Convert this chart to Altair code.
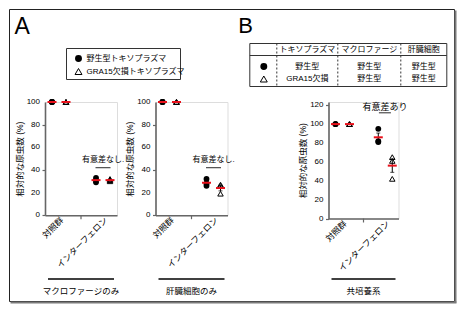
import altair as alt
import pandas as pd

FONT = "Liberation Sans, Noto Sans CJK JP"

groups = ["対照群", "インターフェロン"]
strains = ["野生型", "GRA15欠損"]

# Relative parasite numbers (%), three replicates each
mac_ctrl_wt = [100, 100, 100]
mac_ctrl_gra = [100, 100, 100]
mac_ifn_wt = [33, 31, 29]
mac_ifn_gra = [32, 30, 31]

hep_ctrl_wt = [100, 100, 100]
hep_ctrl_gra = [100, 100, 100]
hep_ifn_wt = [32, 28, 26]
hep_ifn_gra = [27, 26, 19]

co_ctrl_wt = [100, 100, 100]
co_ctrl_gra = [100, 100, 100]
co_ifn_wt = [95, 81, 82]
co_ifn_gra = [65, 61, 42]

ticks_a = [0, 20, 40, 60, 80, 100]
ticks_b = [0, 20, 40, 60, 80, 100, 120]

legend_labels = ["野生型トキソプラズマ", "GRA15欠損トキソプラズマ"]
table_header = ["トキソプラズマ", "マクロファージ", "肝臓細胞"]
table_rows = [["野生型", "野生型", "野生型"], ["GRA15欠損", "野生型", "野生型"]]


def make_df(cw, cg, iw, ig):
    rows = []
    for g, s, vals in [(groups[0], strains[0], cw), (groups[0], strains[1], cg),
                       (groups[1], strains[0], iw), (groups[1], strains[1], ig)]:
        for v in vals:
            rows.append({"group": g, "strain": s, "value": v})
    return pd.DataFrame(rows)


one = pd.DataFrame({"k": [0]})
AX = "#666666"


def panel(df, w, h, ymax, yticks, sig_text, sig_y, line_y, line_len, sig_size,
          group_label, extra):
    yaxis = alt.Axis(values=yticks, title="相対的な原虫数 (%)", grid=False,
                     titleFont=FONT, titleFontSize=8.5, titleFontWeight="normal",
                     titleColor="black", labels=False, domainColor=AX,
                     domainWidth=1.6, tickColor=AX, tickWidth=1.2, tickSize=3,
                     titlePadding=17)
    ysc = alt.Scale(domain=[0, ymax], nice=False, zero=True)
    x = alt.X("group:N", sort=groups,
              scale=alt.Scale(domain=groups, paddingInner=0.364, paddingOuter=0),
              axis=alt.Axis(title=None, labelAngle=-45, ticks=False,
                            labelFont=FONT, labelFontSize=8.5, labelColor="black",
                            labelAlign="right", labelBaseline="middle",
                            labelPadding=3, labelOffset=3, domainColor=AX,
                            domainWidth=1.6, labelOverlap=False))
    xo = alt.XOffset("strain:N", sort=strains, scale=alt.Scale(domain=strains))
    base = alt.Chart(df)

    stats = base.transform_aggregate(
        m="mean(value)", se="stderr(value)", groupby=["group", "strain"]
    ).transform_filter("datum.se > 0").transform_calculate(
        lo="datum.m - datum.se", hi="datum.m + datum.se")
    err = stats.mark_rule(color="black", strokeWidth=1).encode(
        x=x, xOffset=xo, y=alt.Y("lo:Q", scale=ysc, axis=yaxis), y2="hi:Q")
    cap_lo = stats.mark_tick(color="black", size=4, thickness=1).encode(
        x=x, xOffset=xo, y=alt.Y("lo:Q", scale=ysc, axis=yaxis))
    cap_hi = stats.mark_tick(color="black", size=4, thickness=1).encode(
        x=x, xOffset=xo, y=alt.Y("hi:Q", scale=ysc, axis=yaxis))

    dots = base.transform_filter(alt.datum.strain == strains[0]).mark_circle(
        color="black", opacity=1, size=34).encode(
        x=x, xOffset=xo, y=alt.Y("value:Q", scale=ysc, axis=yaxis))
    tris = base.transform_filter(alt.datum.strain == strains[1]).mark_point(
        shape="triangle-up", filled=False, color="black", strokeWidth=1,
        opacity=1, size=30).encode(
        x=x, xOffset=xo, y=alt.Y("value:Q", scale=ysc, axis=yaxis))
    mean = base.mark_tick(color="#e8101a", size=9, thickness=2).encode(
        x=x, xOffset=xo, y=alt.Y("mean(value):Q", scale=ysc, axis=yaxis))

    # y tick labels, placed through the y scale
    ylabels = alt.Chart(pd.DataFrame({"t": yticks})).mark_text(
        font="Liberation Sans", fontSize=8, align="right", baseline="middle",
        color="black").encode(
        x=alt.value(-5), y=alt.Y("t:Q", scale=ysc, axis=yaxis),
        text=alt.Text("t:Q"))

    sig = alt.Chart(one).mark_text(text=sig_text, font=FONT, fontSize=sig_size,
                                   color="black").encode(
        x=alt.XDatum(groups[1], type="nominal"),
        y=alt.YDatum(sig_y, type="quantitative"))
    sig_line = alt.Chart(one).mark_tick(color="black", size=line_len,
                                        thickness=1.2).encode(
        x=alt.XDatum(groups[1], type="nominal"),
        y=alt.YDatum(line_y, type="quantitative"))
    mid_tick = alt.Chart(one).mark_rule(color=AX, strokeWidth=1.2).encode(
        x=alt.value(w / 2), y=alt.value(h), y2=alt.value(h + 4))
    bracket = alt.Chart(one).mark_rule(color="black", strokeWidth=1.3).encode(
        x=alt.value(3), x2=alt.value(w - 3), y=alt.value(177))
    glabel = alt.Chart(one).mark_text(text=group_label, font=FONT, fontSize=8.5,
                                      color="black").encode(
        x=alt.value(w / 2), y=alt.value(188.5))

    layers = [err, cap_lo, cap_hi, dots, tris, mean, ylabels, sig, sig_line,
              mid_tick, bracket, glabel] + extra
    return alt.layer(*layers).properties(width=w, height=h)


def txt(s, x, y, size=8, align="center", baseline="middle", font=FONT):
    return alt.Chart(one).mark_text(text=s, font=font, fontSize=size,
                                    align=align, baseline=baseline,
                                    color="black").encode(
        x=alt.value(x), y=alt.value(y))


def hrule(x1, x2, y, color="#222", width=1, dash=None):
    kw = dict(color=color, strokeWidth=width)
    if dash:
        kw["strokeDash"] = dash
    return alt.Chart(one).mark_rule(**kw).encode(
        x=alt.value(x1), x2=alt.value(x2), y=alt.value(y))


def vrule(x, y1, y2, color="#222", width=1, dash=None):
    kw = dict(color=color, strokeWidth=width)
    if dash:
        kw["strokeDash"] = dash
    return alt.Chart(one).mark_rule(**kw).encode(
        x=alt.value(x), y=alt.value(y1), y2=alt.value(y2))


def box(x1, x2, y1, y2, color="#222", width=1):
    return alt.Chart(one).mark_rect(filled=False, stroke=color,
                                    strokeWidth=width).encode(
        x=alt.value(x1), x2=alt.value(x2), y=alt.value(y1), y2=alt.value(y2))


# ---- panel A decorations (relative to first plot origin) ----
extra_a = [
    box(-35.5, 409.5, -92.5, 199.5, color="#222", width=1),
    vrule(410.5, -91.5, 200.5, color="#7a7a7a", width=2),
    hrule(-34.5, 411.5, 200.5, color="#7a7a7a", width=2),
    txt("A", -30.5, -67.8, size=23, align="left", baseline="alphabetic",
        font="Liberation Sans"),
    box(21.5, 135.5, -53.5, -22.5, color="#333", width=1),
    alt.Chart(one).mark_circle(color="black", opacity=1, size=48).encode(
        x=alt.value(33.5), y=alt.value(-43.5)),
    alt.Chart(one).mark_point(shape="triangle-up", filled=False, color="black",
                              strokeWidth=1, size=48, opacity=1).encode(
        x=alt.value(33.5), y=alt.value(-30.5)),
    txt(legend_labels[0], 41.5, -43.5, size=8, align="left"),
    txt(legend_labels[1], 41.5, -30.5, size=8, align="left"),
]

# ---- panel B decorations (relative to B plot origin) ----
col_x = [-21.2, 40.8, 95.3]
row_y = [-35.5, -23]
extra_b = [
    txt("B", -90.2, -69, size=22, align="left", baseline="alphabetic",
        font="Liberation Sans"),
    box(-78.7, 118.3, -58.5, -15.5, color="#333", width=1),
    hrule(-78.7, 118.3, -46.5, color="#333", width=1),
    vrule(-51.7, -58.5, -15.5, color="#333", width=1, dash=[2, 2]),
    vrule(9.3, -58.5, -15.5, color="#333", width=1, dash=[2, 2]),
    vrule(72.3, -58.5, -15.5, color="#333", width=1, dash=[2, 2]),
    alt.Chart(one).mark_circle(color="black", opacity=1, size=48).encode(
        x=alt.value(-64.7), y=alt.value(row_y[0])),
    alt.Chart(one).mark_point(shape="triangle-up", filled=False, color="black",
                              strokeWidth=1, size=48, opacity=1).encode(
        x=alt.value(-64.7), y=alt.value(row_y[1])),
]
for i, h in enumerate(table_header):
    extra_b.append(txt(h, col_x[i], -52.5, size=8))
for r, row in enumerate(table_rows):
    for i, s in enumerate(row):
        extra_b.append(txt(s, col_x[i], row_y[r], size=8))

pa1 = panel(make_df(mac_ctrl_wt, mac_ctrl_gra, mac_ifn_wt, mac_ifn_gra),
            72, 113.2, 100, ticks_a, "有意差なし.", 48.5, 42, 15, 8,
            "マクロファージのみ", extra_a)
pa2 = panel(make_df(hep_ctrl_wt, hep_ctrl_gra, hep_ifn_wt, hep_ifn_gra),
            72, 113.2, 100, ticks_a, "有意差なし.", 48.5, 42, 15, 8,
            "肝臓細胞のみ", [])
pb = panel(make_df(co_ctrl_wt, co_ctrl_gra, co_ifn_wt, co_ifn_gra),
           70, 116.5, 123.4, ticks_b, "有意差あり", 118, 112, 12, 9,
           "共培養系", extra_b)

spacer = alt.Chart(one).mark_point(opacity=0).properties(width=23.7, height=113.2)

chart = alt.hconcat(pa1, pa2, spacer, pb, spacing=38.5, bounds="flush").properties(
    padding=0
).configure_view(stroke=None).configure(background="white")

chart.save("out.html", embed_options={"renderer": "svg", "actions": False})
